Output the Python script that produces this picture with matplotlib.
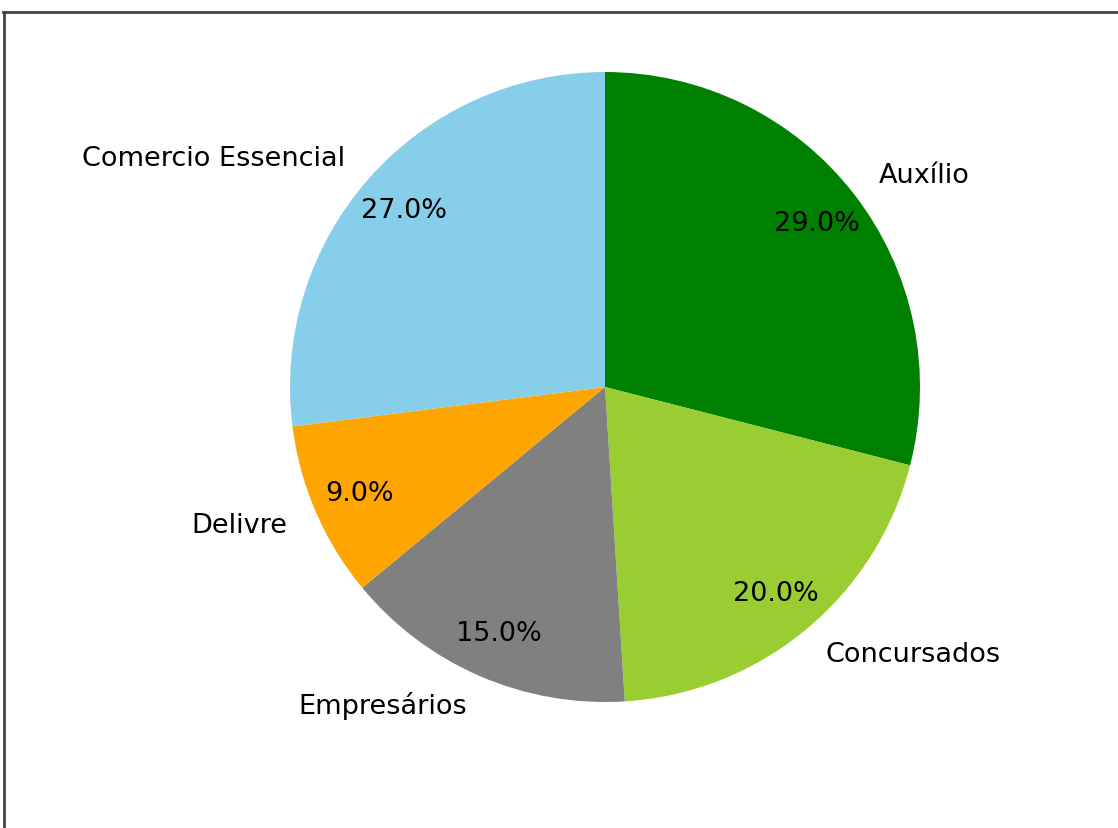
import matplotlib
matplotlib.use("Agg")
import matplotlib.pyplot as plt
from matplotlib.lines import Line2D

labels = ["Auxílio", "Concursados", "Empresários", "Delivre", "Comercio Essencial"]
values = [29, 20, 15, 9, 27]
colors = ["green", "yellowgreen", "gray", "orange", "skyblue"]

W, H = 1118, 829
fig = plt.figure(figsize=(W / 100, H / 100), dpi=100)

cx, cy, r = 605, 388, 315
ax = fig.add_axes([(cx - r) / W, (H - cy - r) / H, 2 * r / W, 2 * r / H])
ax.pie(values, labels=labels, colors=colors, autopct="%1.1f%%",
       startangle=90, counterclock=False, pctdistance=0.85, labeldistance=1.1,
       textprops={"fontsize": 19.5})
ax.set_xlim(-1, 1)
ax.set_ylim(-1, 1)
ax.set_aspect("equal")
ax.axis("off")

# frame border (top and left visible)
fig.add_artist(Line2D([3 / W, 1], [1 - 12.5 / H, 1 - 12.5 / H], transform=fig.transFigure,
                      color="#444444", lw=2))
fig.add_artist(Line2D([4 / W, 4 / W], [0, 1 - 12.5 / H], transform=fig.transFigure,
                      color="#444444", lw=2))

fig.savefig("out.png", dpi=100)
